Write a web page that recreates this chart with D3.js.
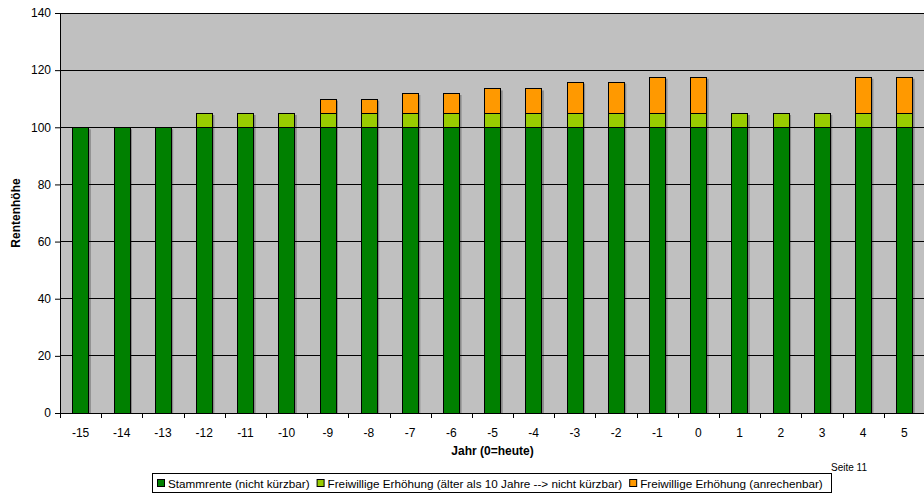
<!DOCTYPE html>
<html><head><meta charset="utf-8">
<script src="https://cdn.jsdelivr.net/npm/d3@7"></script>
<style>body{margin:0;background:#fff;}svg{display:block;font-family:"Liberation Sans",Arial,sans-serif;}</style>
</head><body><svg id="c" width="924" height="495"></svg>
<script>
const years = [-15,-14,-13,-12,-11,-10,-9,-8,-7,-6,-5,-4,-3,-2,-1,0,1,2,3,4,5];
const stamm = [100,100,100,100,100,100,100,100,100,100,100,100,100,100,100,100,100,100,100,100,100];
const alt   = [0,0,0,5,5,5,5,5,5,5,5,5,5,5,5,5,5,5,5,5,5];
const anr   = [0,0,0,0,0,0,5,5,7,7,8.6,8.6,11,11,12.7,12.7,0,0,0,12.7,12.7];
const yTicks = [0,20,40,60,80,100,120,140];
const seriesNames = ["Stammrente (nicht kürzbar)","Freiwillige Erhöhung (älter als 10 Jahre --> nicht kürzbar)","Freiwillige Erhöhung (anrechenbar)"];
const colors = ["#008000","#99cc00","#ff9900"];

const svg = d3.select("#c");
const L=60, T=13, B=413, R=925;
const x = d3.scaleBand().domain(years).range([L,R]).paddingInner(0.6).paddingOuter(0.3);
const y = d3.scaleLinear().domain([0,140]).range([B,T]);

svg.append("rect").attr("x",L).attr("y",T).attr("width",R-L).attr("height",B-T).attr("fill","#c0c0c0");
svg.append("g").selectAll("line").data(yTicks.filter(d=>d>0)).join("line")
  .attr("x1",L).attr("x2",R).attr("y1",d=>y(d)).attr("y2",d=>y(d)).attr("stroke","#000").attr("stroke-width",1).attr("shape-rendering","crispEdges");

const data = years.map((yr,i)=>({year:yr, s0:stamm[i], s1:alt[i], s2:anr[i]}));
const stack = d3.stack().keys(["s0","s1","s2"])(data);

const g = svg.append("g");
data.forEach((d,i)=>{
  const top = d.s0+d.s1+d.s2;
  g.append("rect").attr("x",x(d.year)+2).attr("y",y(top)+2).attr("width",x.bandwidth()).attr("height",y(0)-y(top)-2)
   .attr("fill","rgba(0,0,0,0.28)");
});
stack.forEach((layer,k)=>{
  g.append("g").selectAll("rect").data(layer.filter(d=>d[1]-d[0]>0)).join("rect")
   .attr("x",d=>Math.round(x(d.data.year))+0.5).attr("y",d=>Math.round(y(d[1]))+0.5)
   .attr("width",Math.round(x.bandwidth()))
   .attr("height",d=>Math.round(y(d[0]))-Math.round(y(d[1])))
   .attr("fill",colors[k]).attr("stroke","#000").attr("stroke-width",1);
});

const ya = svg.append("g").attr("transform",`translate(${L},0)`)
  .call(d3.axisLeft(y).tickValues(yTicks).tickSize(5).tickPadding(4).tickSizeOuter(0));
ya.select(".domain").attr("stroke","#000");
ya.selectAll("text").attr("font-size","12px").attr("font-family","Liberation Sans, Arial, sans-serif").attr("fill","#000");

const xa = svg.append("g").attr("transform",`translate(0,${B})`);
xa.append("line").attr("x1",L).attr("x2",R).attr("y1",0.5).attr("y2",0.5).attr("stroke","#000");
const step = x.step();
xa.selectAll("line.t").data(d3.range(years.length+1)).join("line").attr("class","t")
  .attr("x1",i=>Math.round(L+i*step)+0.5).attr("x2",i=>Math.round(L+i*step)+0.5).attr("y1",0).attr("y2",5).attr("stroke","#000");
xa.selectAll("text").data(years).join("text")
  .attr("x",d=>x(d)+x.bandwidth()/2).attr("y",24).attr("text-anchor","middle")
  .attr("font-size","12px").text(d=>d);

svg.append("text").attr("transform",`translate(20,${(T+B)/2}) rotate(-90)`).attr("text-anchor","middle")
  .attr("font-size","12px").attr("font-weight","bold").text("Rentenhöhe");
svg.append("text").attr("x",(L+R)/2).attr("y",455).attr("text-anchor","middle")
  .attr("font-size","12px").attr("font-weight","bold").text("Jahr (0=heute)");
svg.append("text").attr("x",831).attr("y",471).attr("font-size","10px").text("Seite 11");

const lg = svg.append("g");
lg.append("rect").attr("x",152.5).attr("y",473.5).attr("width",679).attr("height",19).attr("fill","#fff").attr("stroke","#000");
let lx = 157;
seriesNames.forEach((n,k)=>{
  lg.append("rect").attr("x",lx+0.5).attr("y",479.5).attr("width",7).attr("height",7).attr("fill",colors[k]).attr("stroke","#000");
  const t = lg.append("text").attr("x",lx+11).attr("y",487.5).attr("font-size","11.7px").text(n);
  lx += 11 + t.node().getComputedTextLength() + 7;
});
</script></body></html>
